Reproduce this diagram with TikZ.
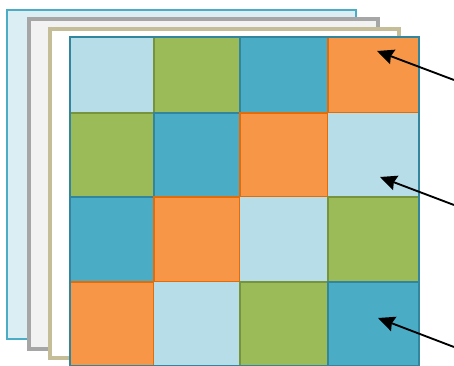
\documentclass[tikz,border=0pt]{standalone}
\usepackage{tikz}
\usetikzlibrary{positioning,arrows.meta,calc}
\definecolor{lblue}{HTML}{B7DDE8}
\definecolor{lgreen}{HTML}{9BBB59}
\definecolor{dgreen}{HTML}{77933C}
\definecolor{teal}{HTML}{4BACC6}
\definecolor{dteal}{HTML}{31859C}
\definecolor{orng}{HTML}{F79646}
\definecolor{dorng}{HTML}{E36C09}
\definecolor{paleb}{HTML}{DAEEF3}
\definecolor{tan}{HTML}{C4BD97}
\tikzset{
  sheet/.style={line width=1.4pt},
  sq/.style={rectangle,inner sep=0pt,outer sep=0pt},
  sq0/.style={sq,fill=lblue,draw=lblue,line width=0.6pt},
  sq1/.style={sq,fill=lgreen,draw=dgreen,line width=1.1pt},
  sq2/.style={sq,fill=teal,draw=dteal,line width=1.1pt},
  sq3/.style={sq,fill=orng,draw=dorng,line width=1.3pt},
  ptr/.style={-{Stealth[length=4.4mm,width=4mm,inset=0.5mm]},line width=1.4pt},
}
\begin{document}
\begin{tikzpicture}[x=0.75pt,y=-0.75pt]
  \useasboundingbox (0,0) rectangle (454,366);
  % stacked sheets behind the grid
  \draw[sheet,fill=paleb,draw=teal] (7,10) rectangle (356,339);
  \draw[sheet,fill=black!5,draw=black!35,line width=2.6pt] (29,19) rectangle (378,349);
  \draw[sheet,fill=white,draw=tan,line width=2.6pt] (50,29) rectangle (399,358);
  % 4x4 grid of coloured squares
  \foreach \r/\ya/\yb in {0/37/113, 1/113/197, 2/197/282, 3/282/366}{
    \foreach \c/\xa/\xb in {0/70/154, 1/154/240, 2/240/328, 3/328/419}{
      \pgfmathtruncatemacro\k{mod(\r+\c,4)}
      \pgfmathsetmacro\w{0.75*(\xb-\xa)}
      \pgfmathsetmacro\h{0.75*(\yb-\ya)}
      \node[sq\k,minimum width=\w pt,minimum height=\h pt]
        (c\r\c) at ({(\xa+\xb)/2},{(\ya+\yb)/2}) {};
    }
  }
  \draw[dteal,line width=0.9pt] (c00.north west) rectangle (c33.south east);
  % pointers from the right
  \coordinate (s1) at (454,80);
  \coordinate (s2) at (454,205);
  \coordinate (s3) at (454,347);
  \coordinate (t1) at (377,51);
  \coordinate (t2) at (380,177);
  \coordinate (t3) at (378,318);
  \foreach \i in {1,2,3}{
    \draw[ptr] (s\i) -- (t\i);
  }
\end{tikzpicture}
\end{document}
